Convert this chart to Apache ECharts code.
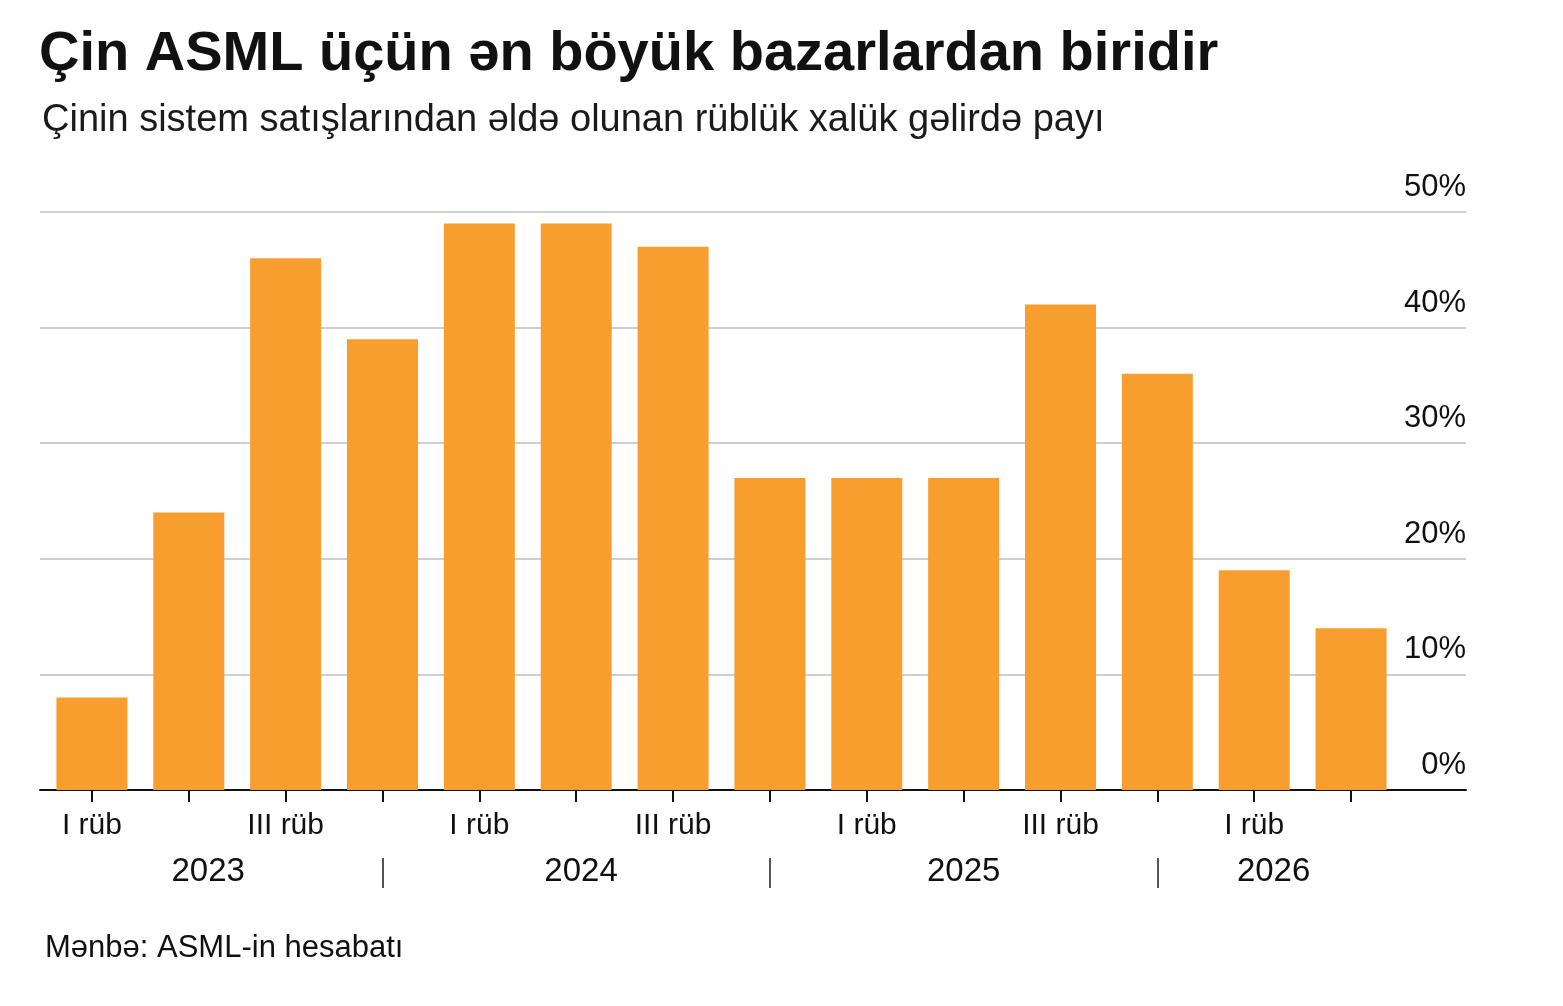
<!DOCTYPE html>
<html>
<head>
<meta charset="utf-8">
<script src="https://cdn.jsdelivr.net/npm/echarts@6/dist/echarts.min.js"></script>
<style>
	html, body { margin: 0; padding: 0; background: #fff; }
	#chart { width: 1563px; height: 1006px; }
</style>
</head>
<body>
<div id="chart"></div>
<script>
'use strict';

const QUARTERS = ['I rüb', 'II rüb', 'III rüb', 'IV rüb', 'I rüb', 'II rüb', 'III rüb', 'IV rüb', 'I rüb', 'II rüb', 'III rüb', 'IV rüb', 'I rüb', 'II rüb'];
const SHARE = [8, 24, 46, 39, 49, 49, 47, 27, 27, 27, 42, 36, 19, 14]; // %
const YEARS = ['2023', '2024', '2025', '2026'];
const YEAR_POS = [1.2, 5.05, 9, 12.2]; // year label centers, in category units
const YEAR_SEP = [3, 7, 11];
const Y_TICKS = [0, 10, 20, 30, 40, 50];

const FONT = '"Liberation Sans", Arial, "DejaVu Sans", sans-serif';
const ORANGE = '#F79E2F';

const chart = echarts.init(document.getElementById('chart'), null, { renderer: 'canvas' });

const option = {
	backgroundColor: '#fff',
	animation: false,
	textStyle: { fontFamily: FONT },
	title: [{
		text: 'Çin ASML üçün ən böyük bazarlardan biridir',
		left: 34,
		top: 22,
		textStyle: { fontFamily: FONT, fontSize: 56, fontWeight: 'bold', color: '#111' }
	}, {
		text: 'Çinin sistem satışlarından əldə olunan rüblük xalük gəlirdə payı',
		left: 37,
		top: 97,
		textStyle: { fontFamily: FONT, fontSize: 38, fontWeight: 'normal', color: '#1a1a1a' }
	}, {
		text: 'Mənbə: ASML-in hesabatı',
		left: 40,
		top: 928,
		textStyle: { fontFamily: FONT, fontSize: 31, fontWeight: 'normal', color: '#111' }
	}],
	grid: [
		// wide grid: gridlines, y labels, baseline
		{ left: 40, right: 97, top: 212, bottom: 216, containLabel: false },
		// bar grid
		{ left: 43.5, right: 163.5, top: 212, bottom: 216, containLabel: false }
	],
	xAxis: [{
		gridIndex: 0,
		type: 'value',
		min: 0,
		max: 1,
		axisLine: { show: true, onZero: false, lineStyle: { color: '#111', width: 2 } },
		axisTick: { show: false },
		axisLabel: { show: false },
		splitLine: { show: false }
	}, {
		gridIndex: 1,
		type: 'category',
		data: QUARTERS,
		boundaryGap: true,
		axisLine: { show: false },
		axisTick: { show: true, alignWithLabel: true, interval: 0, length: 12, lineStyle: { color: '#111', width: 2 } },
		axisLabel: { interval: 1, margin: 21, fontSize: 30, color: '#111', fontFamily: FONT }
	}, {
		gridIndex: 1,
		type: 'value',
		position: 'bottom',
		offset: 98,
		min: -0.5,
		max: 13.5,
		axisLine: { show: false },
		splitLine: { show: false },
		axisTick: {
			show: true,
			inside: true,
			length: 30,
			customValues: YEAR_SEP,
			lineStyle: { color: '#555', width: 2 }
		},
		axisLabel: {
			inside: true,
			margin: 0,
			customValues: YEAR_POS,
			formatter: v => YEARS[YEAR_POS.indexOf(v)] || '',
			fontSize: 33,
			color: '#111',
			fontFamily: FONT
		}
	}],
	yAxis: [{
		gridIndex: 0,
		type: 'value',
		position: 'right',
		min: Y_TICKS[0],
		max: Y_TICKS[Y_TICKS.length - 1],
		interval: 10,
		axisLine: { show: false },
		axisTick: { show: false },
		splitLine: { show: true, lineStyle: { color: '#cfcfcf', width: 2 } },
		axisLabel: {
			inside: true,
			margin: 0,
			verticalAlign: 'bottom',
			padding: [0, 0, 9, 0],
			formatter: '{value}%',
			fontSize: 31,
			color: '#111',
			fontFamily: FONT
		}
	}, {
		gridIndex: 1,
		type: 'value',
		min: 0,
		max: 50,
		show: false
	}],
	series: [{
		type: 'bar',
		xAxisIndex: 1,
		yAxisIndex: 1,
		data: SHARE,
		barWidth: 71,
		itemStyle: { color: ORANGE },
		z: 3
	}]
};

chart.setOption(option);
</script>
</body>
</html>
